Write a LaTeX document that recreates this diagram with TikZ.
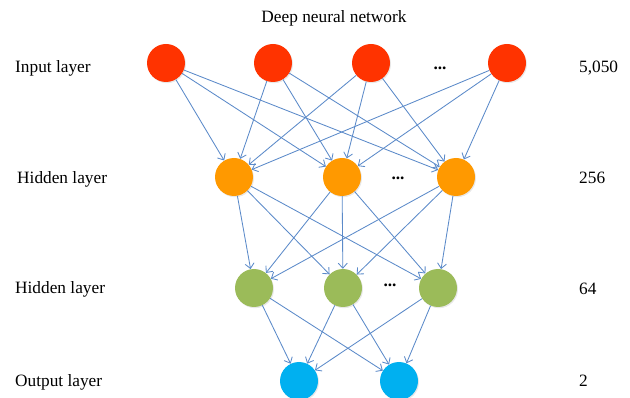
\documentclass[tikz,border=0pt]{standalone}
\usepackage{fontspec}
\setmainfont{Liberation Serif}
\usetikzlibrary{arrows.meta,shadows}
\definecolor{inred}{HTML}{FF3300}
\definecolor{hidorange}{HTML}{FF9900}
\definecolor{hidgreen}{HTML}{9BBB59}
\definecolor{outblue}{HTML}{00B0F0}
\definecolor{edgeblue}{HTML}{5B8AC9}
\tikzset{
  neuron/.style={circle, minimum size=38pt, inner sep=0pt, draw=none,
    drop shadow={opacity=0.18, shadow xshift=1pt, shadow yshift=-1.2pt}},
  lbl/.style={anchor=west, inner sep=0pt, font=\fontsize{17.3}{20}\selectfont},
  dots/.style={inner sep=0pt, font=\fontsize{17.3}{20}\selectfont\bfseries},
  arr/.style={draw=edgeblue, line width=0.85pt, -{Straight Barb[length=5pt,width=9pt]}}
}
\begin{document}
\begin{tikzpicture}[x=1pt,y=-1pt]
\useasboundingbox (0,0) rectangle (630,398);
\node[inner sep=0pt, font=\fontsize{17.3}{20}\selectfont] (title) at (334,18) {Deep neural network};
% labels
\node[lbl] (l1) at (15,68) {Input layer};
\node[lbl] (l2) at (17,179) {Hidden layer};
\node[lbl] (l3) at (15,289) {Hidden layer};
\node[lbl] (l4) at (15,382) {Output layer};
\node[lbl] (n1) at (579,68) {5,050};
\node[lbl] (n2) at (579,178) {256};
\node[lbl] (n3) at (579,289) {64};
\node[lbl] (n4) at (579,381) {2};
% neurons
\node[neuron, fill=inred] (i1) at (166,63) {};
\node[neuron, fill=inred] (i2) at (273,63) {};
\node[neuron, fill=inred] (i3) at (371,63) {};
\node[neuron, fill=inred] (i4) at (507,63) {};
\node[dots] (d1) at (440,68) {...};
\node[neuron, fill=hidorange] (h1) at (234,177) {};
\node[neuron, fill=hidorange] (h2) at (342,177) {};
\node[neuron, fill=hidorange] (h3) at (456,177) {};
\node[dots] (d2) at (398,178) {...};
\node[neuron, fill=hidgreen] (g1) at (254,288) {};
\node[neuron, fill=hidgreen] (g2) at (343,288) {};
\node[neuron, fill=hidgreen] (g3) at (438,288) {};
\node[dots] (d3) at (390,285) {...};
\node[neuron, fill=outblue] (o1) at (299,381) {};
\node[neuron, fill=outblue] (o2) at (399,381) {};
% edges
\foreach \a in {i1,i2,i3,i4}{\foreach \b in {h1,h2,h3}{\draw[arr] (\a) -- (\b);}}
\foreach \a in {h1,h2,h3}{\foreach \b in {g1,g2,g3}{\draw[arr] (\a) -- (\b);}}
\foreach \a in {g1,g2,g3}{\foreach \b in {o1,o2}{\draw[arr] (\a) -- (\b);}}
\end{tikzpicture}
\end{document}
